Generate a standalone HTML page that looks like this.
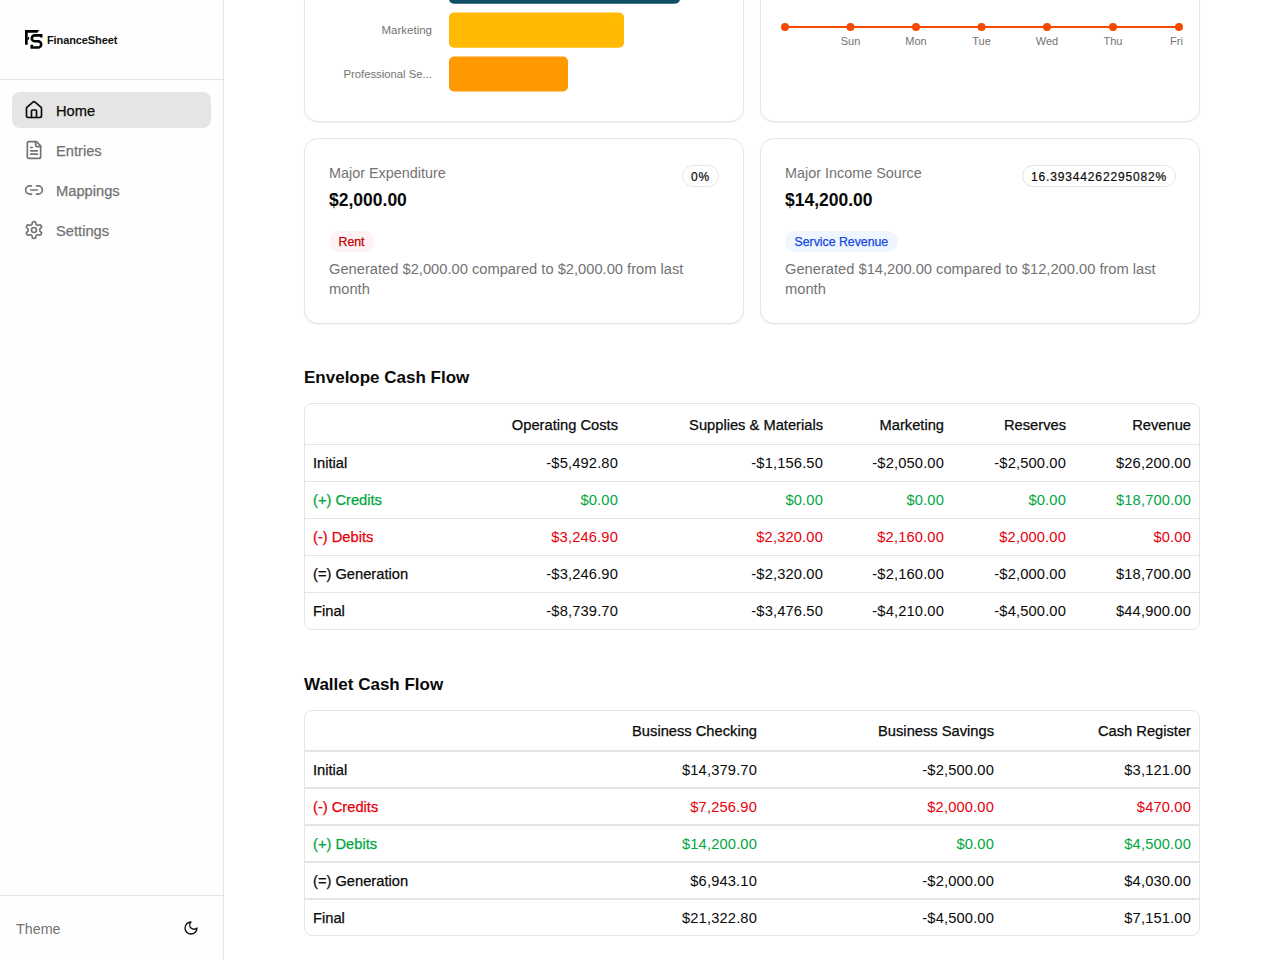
<!DOCTYPE html>
<html lang="en">
<head>
<meta charset="utf-8">
<title>FinanceSheet</title>
<style>
*{box-sizing:border-box;margin:0;padding:0}
html,body{width:1280px;height:960px;overflow:hidden;background:#fff}
body{font-family:"Liberation Sans",Arial,sans-serif;color:#0a0a0a;position:relative;-webkit-font-smoothing:antialiased}
.sidebar{position:absolute;left:0;top:0;width:224px;height:960px;border-right:1px solid #e5e5e5;background:#fefefe}
.logo{position:absolute;left:0;top:0;width:223px;height:80px;border-bottom:1px solid #e5e5e5}
.logo svg{position:absolute;left:24px;top:29px}
.logo span{position:absolute;left:47px;top:32px;font-size:11px;font-weight:700;letter-spacing:-0.1px;color:#111;line-height:16px}
.nav{position:absolute;left:12px;top:92px;width:199px}
.nav a{display:flex;align-items:center;height:36px;margin-bottom:4px;border-radius:8px;padding-left:12px;font-size:14.7px;line-height:20px;font-weight:500;color:#737373;text-decoration:none}
.nav a.active{background:#e5e5e5;color:#0a0a0a}
.nav a span{-webkit-text-stroke:.25px currentColor}
.nav a span{position:relative;top:1px}
.nav a svg{width:20px;height:20px;margin-right:12px;flex:none}
.foot{position:absolute;left:0;top:895px;width:223px;height:65px;border-top:1px solid #e5e5e5}
.foot span{position:absolute;left:16px;top:23px;font-size:14.3px;color:#737373;line-height:20px}
.foot svg{position:absolute;left:182px;top:920px}
.card{position:absolute;background:#fff;border:1px solid #e5e5e5;border-radius:14px;box-shadow:0 1px 2px rgba(0,0,0,.05)}

.ttl{position:absolute;font-size:14.4px;line-height:20px;color:#737373}
.amt{position:absolute;font-size:17.5px;line-height:24px;font-weight:700;color:#0a0a0a}
.pill{position:absolute;height:22px;border:1px solid #e5e5e5;border-radius:999px;font-size:12px;line-height:22px;font-weight:500;color:#0a0a0a;padding:0 8px;letter-spacing:.85px;white-space:nowrap;-webkit-text-stroke:.2px #0a0a0a}
.tag{position:absolute;height:21px;border-radius:999px;font-size:12.3px;line-height:22px;padding:0 9.5px;white-space:nowrap;-webkit-text-stroke:.25px currentColor}
.desc{position:absolute;font-size:14.7px;line-height:20px;color:#737373;width:392px}
h2{position:absolute;left:304px;font-size:17px;line-height:24px;font-weight:700;color:#0a0a0a}
.tbl{position:absolute;left:304px;width:896px;border:1px solid #e5e5e5;border-radius:8px;overflow:hidden}
.tbl table{width:894px;border-collapse:separate;border-spacing:0;table-layout:fixed;font-size:14.7px;line-height:20px}
.tbl th{height:41px;font-weight:400;text-align:right;padding:1px 8px 0;color:#0a0a0a;border-bottom:1px solid #e5e5e5;white-space:nowrap;-webkit-text-stroke:.25px #0a0a0a}
.tbl td{height:37px;padding:0 8px;text-align:right;border-bottom:1px solid #e5e5e5;white-space:nowrap}
.tbl tr:last-child td{border-bottom:0;height:36px}
.w th{border-bottom-width:2px}.w td{border-bottom-width:2px}.w tr:last-child td{height:35px}
.tbl td{letter-spacing:.15px}
.tbl td:first-child{letter-spacing:0;text-align:left;-webkit-text-stroke:.25px currentColor}
.g{color:#00a63e}.r{color:#e7000b}
</style>
</head>
<body>
<div class="sidebar">
  <div class="logo">
    <svg width="20" height="22" viewBox="0 0 20 22"><path d="M1 1H15L13.5 3.7H3.7V15.75H1Z" fill="#000"/><rect x="3.5" y="8" width="1.6" height="2.7" fill="#000"/><path d="M17.2 8.6V6.4H10.75A2.95 2.95 0 0 0 10.75 12.3H14.1A3.1 3.1 0 0 1 14.1 18.5H7.8V15.8" fill="none" stroke="#000" stroke-width="2.6"/></svg>
    <span>FinanceSheet</span>
  </div>
  <div class="nav">
    <a class="active" href="#"><svg viewBox="0 0 24 24" fill="none" stroke="currentColor" stroke-width="2" stroke-linecap="round" stroke-linejoin="round"><path d="M15 21v-8a1 1 0 0 0-1-1h-4a1 1 0 0 0-1 1v8"/><path d="M3 10a2 2 0 0 1 .709-1.528l7-5.999a2 2 0 0 1 2.582 0l7 5.999A2 2 0 0 1 21 10v9a2 2 0 0 1-2 2H5a2 2 0 0 1-2-2z"/></svg><span>Home</span></a>
    <a href="#"><svg viewBox="0 0 24 24" fill="none" stroke="currentColor" stroke-width="2" stroke-linecap="round" stroke-linejoin="round"><path d="M15 2H6a2 2 0 0 0-2 2v16a2 2 0 0 0 2 2h12a2 2 0 0 0 2-2V7Z"/><path d="M14 2v4a2 2 0 0 0 2 2h4"/><path d="M10 9H8"/><path d="M16 13H8"/><path d="M16 17H8"/></svg><span>Entries</span></a>
    <a href="#"><svg viewBox="0 0 24 24" fill="none" stroke="currentColor" stroke-width="2" stroke-linecap="round" stroke-linejoin="round"><path d="M9 17H7A5 5 0 0 1 7 7h2"/><path d="M15 7h2a5 5 0 1 1 0 10h-2"/><line x1="8" x2="16" y1="12" y2="12"/></svg><span>Mappings</span></a>
    <a href="#"><svg viewBox="0 0 24 24" fill="none" stroke="currentColor" stroke-width="2" stroke-linecap="round" stroke-linejoin="round"><path d="M12.22 2h-.44a2 2 0 0 0-2 2v.18a2 2 0 0 1-1 1.73l-.43.25a2 2 0 0 1-2 0l-.15-.08a2 2 0 0 0-2.73.73l-.22.38a2 2 0 0 0 .73 2.73l.15.1a2 2 0 0 1 1 1.72v.51a2 2 0 0 1-1 1.74l-.15.09a2 2 0 0 0-.73 2.73l.22.38a2 2 0 0 0 2.73.73l.15-.08a2 2 0 0 1 2 0l.43.25a2 2 0 0 1 1 1.73V20a2 2 0 0 0 2 2h.44a2 2 0 0 0 2-2v-.18a2 2 0 0 1 1-1.73l.43-.25a2 2 0 0 1 2 0l.15.08a2 2 0 0 0 2.73-.73l.22-.39a2 2 0 0 0-.73-2.73l-.15-.08a2 2 0 0 1-1-1.74v-.5a2 2 0 0 1 1-1.74l.15-.09a2 2 0 0 0 .73-2.73l-.22-.38a2 2 0 0 0-2.73-.73l-.15.08a2 2 0 0 1-2 0l-.43-.25a2 2 0 0 1-1-1.73V4a2 2 0 0 0-2-2z"/><circle cx="12" cy="12" r="3"/></svg><span>Settings</span></a>
  </div>
  <div class="foot">
    <span>Theme</span>
  </div>
  <svg style="position:absolute;left:183px;top:920px" width="16" height="16" viewBox="0 0 24 24" fill="none" stroke="#0a0a0a" stroke-width="2" stroke-linecap="round" stroke-linejoin="round"><path d="M12 3a6 6 0 0 0 9 9 9 9 0 1 1-9-9Z"/></svg>
</div>


<!-- chart cards -->
<div class="card" style="left:304px;top:-200px;width:440px;height:322px"></div>
<div class="card" style="left:760px;top:-200px;width:440px;height:322px"></div>
<svg style="position:absolute;left:304px;top:0" width="440" height="120">
  <rect x="145" y="-31.25" width="231" height="35" rx="5" fill="#104e64"/>
  <rect x="145" y="12.5" width="175" height="35.25" rx="5" fill="#ffb900"/>
  <rect x="145" y="56.5" width="119" height="35" rx="5" fill="#fe9a00"/>
  <text x="128" y="34" text-anchor="end" font-family="Liberation Sans" font-size="11.5" fill="#737373">Marketing</text>
  <text x="128" y="78" text-anchor="end" font-family="Liberation Sans" font-size="11.3" fill="#737373">Professional Se...</text>
</svg>
<svg style="position:absolute;left:760px;top:0" width="440" height="120">
  <polyline points="25,27 90.5,27 156,27 221.5,27 287,27 353,27 419,27" fill="none" stroke="#f54900" stroke-width="2"/>
  <g fill="#f54900"><circle cx="25" cy="27" r="4"/><circle cx="90.5" cy="27" r="4"/><circle cx="156" cy="27" r="4"/><circle cx="221.5" cy="27" r="4"/><circle cx="287" cy="27" r="4"/><circle cx="353" cy="27" r="4"/><circle cx="419" cy="27" r="4"/></g>
  <g font-family="Liberation Sans" font-size="11" fill="#737373" text-anchor="middle">
  <text x="90.5" y="45">Sun</text><text x="156" y="45">Mon</text><text x="221.5" y="45">Tue</text><text x="287" y="45">Wed</text><text x="353" y="45">Thu</text><text x="416.5" y="45">Fri</text></g>
</svg>

<!-- stat cards -->
<div class="card" style="left:304px;top:138px;width:440px;height:186px"></div>
<div class="card" style="left:760px;top:138px;width:440px;height:186px"></div>
<div class="ttl" style="left:329px;top:163px">Major Expenditure</div>
<div class="amt" style="left:329px;top:188px">$2,000.00</div>
<div class="pill" style="left:682px;top:165px">0%</div>
<div class="tag" style="left:329px;top:231px;background:#fef2f2;color:#c10007">Rent</div>
<div class="desc" style="left:329px;top:259px">Generated $2,000.00 compared to $2,000.00 from last month</div>

<div class="ttl" style="left:785px;top:163px">Major Income Source</div>
<div class="amt" style="left:785px;top:188px">$14,200.00</div>
<div class="pill" style="left:1022px;top:165px">16.39344262295082%</div>
<div class="tag" style="left:785px;top:231px;background:#eff6ff;color:#1447e6">Service Revenue</div>
<div class="desc" style="left:785px;top:259px">Generated $14,200.00 compared to $12,200.00 from last month</div>

<!-- envelope -->
<h2 style="top:366px">Envelope Cash Flow</h2>
<div class="tbl" style="top:403px">
<table>
<colgroup><col style="width:175px"><col style="width:146px"><col style="width:205px"><col style="width:121px"><col style="width:122px"><col style="width:125px"></colgroup>
<tr><th></th><th>Operating Costs</th><th>Supplies &amp; Materials</th><th>Marketing</th><th>Reserves</th><th>Revenue</th></tr>
<tr><td>Initial</td><td>-$5,492.80</td><td>-$1,156.50</td><td>-$2,050.00</td><td>-$2,500.00</td><td>$26,200.00</td></tr>
<tr class="g"><td>(+) Credits</td><td>$0.00</td><td>$0.00</td><td>$0.00</td><td>$0.00</td><td>$18,700.00</td></tr>
<tr class="r"><td>(-) Debits</td><td>$3,246.90</td><td>$2,320.00</td><td>$2,160.00</td><td>$2,000.00</td><td>$0.00</td></tr>
<tr><td>(=) Generation</td><td>-$3,246.90</td><td>-$2,320.00</td><td>-$2,160.00</td><td>-$2,000.00</td><td>$18,700.00</td></tr>
<tr><td>Final</td><td>-$8,739.70</td><td>-$3,476.50</td><td>-$4,210.00</td><td>-$4,500.00</td><td>$44,900.00</td></tr>
</table>
</div>

<!-- wallet -->
<h2 style="top:673px">Wallet Cash Flow</h2>
<div class="tbl w" style="top:710px">
<table>
<colgroup><col style="width:230px"><col style="width:230px"><col style="width:237px"><col style="width:197px"></colgroup>
<tr><th></th><th>Business Checking</th><th>Business Savings</th><th>Cash Register</th></tr>
<tr><td>Initial</td><td>$14,379.70</td><td>-$2,500.00</td><td>$3,121.00</td></tr>
<tr class="r"><td>(-) Credits</td><td>$7,256.90</td><td>$2,000.00</td><td>$470.00</td></tr>
<tr class="g"><td>(+) Debits</td><td>$14,200.00</td><td>$0.00</td><td>$4,500.00</td></tr>
<tr><td>(=) Generation</td><td>$6,943.10</td><td>-$2,000.00</td><td>$4,030.00</td></tr>
<tr><td>Final</td><td>$21,322.80</td><td>-$4,500.00</td><td>$7,151.00</td></tr>
</table>
</div>

</body>
</html>
